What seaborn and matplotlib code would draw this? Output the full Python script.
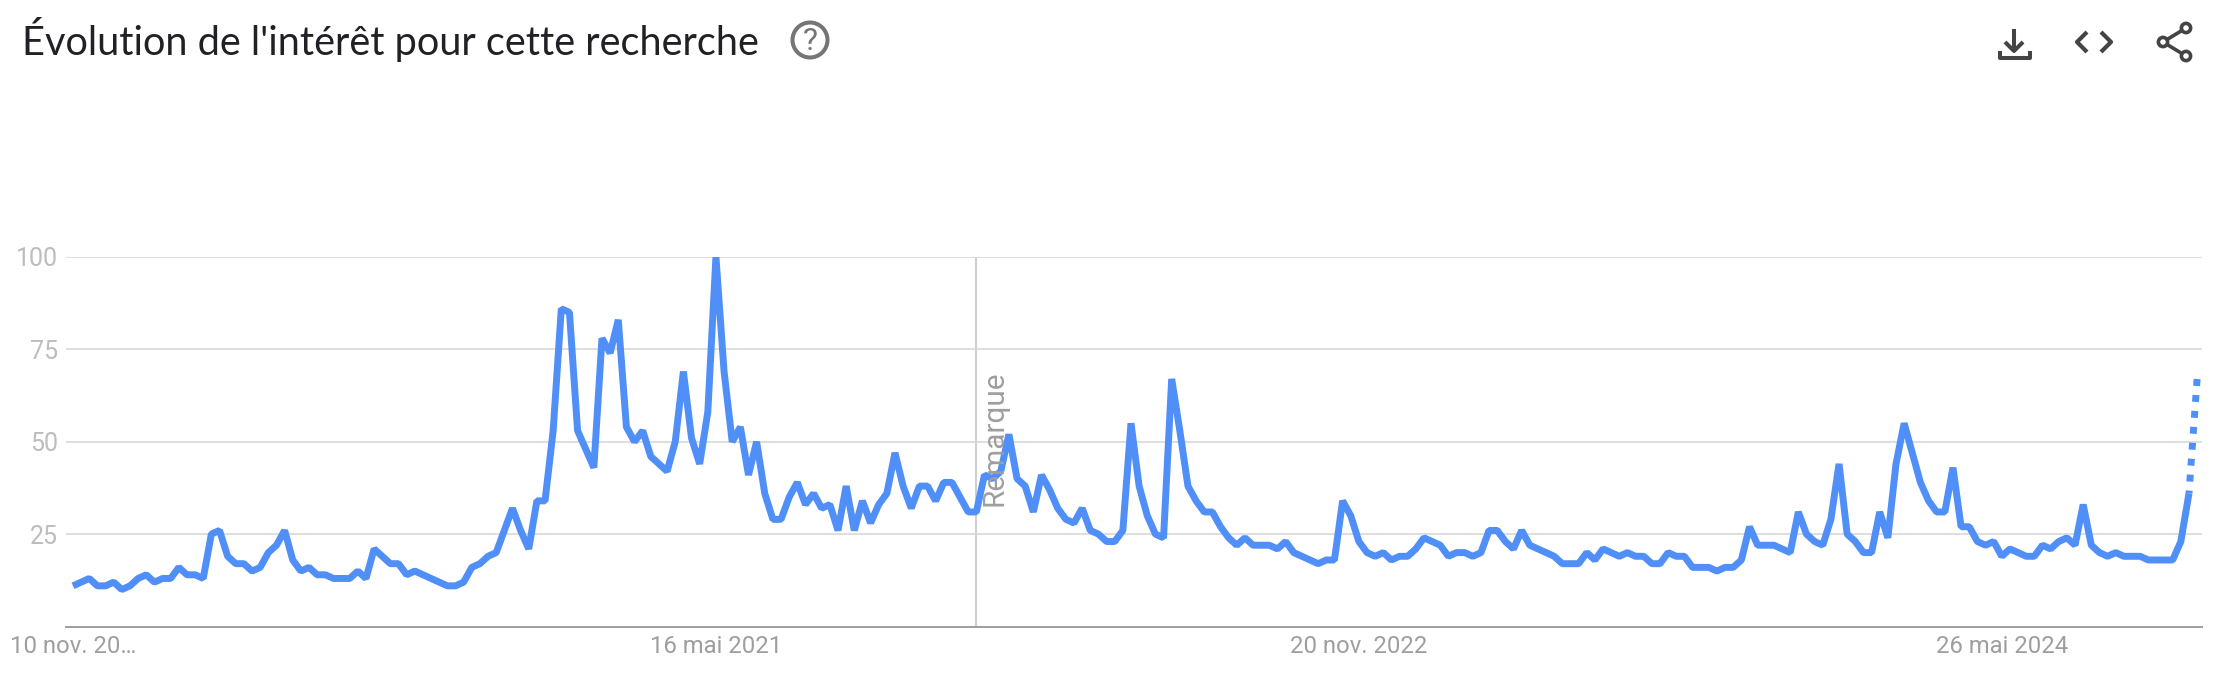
import matplotlib
matplotlib.use("Agg")
import matplotlib.pyplot as plt
import seaborn as sns
import numpy as np
from matplotlib.patches import Circle

# ================= DATA =================
interest = [
    11, 12, 13, 11, 11, 12, 10, 11, 13, 14, 12, 13, 13, 16, 14, 14, 13, 25, 26, 19,
    17, 17, 15, 16, 20, 22, 26, 18, 15, 16, 14, 14, 13, 13, 13, 15, 13, 21, 19, 17,
    17, 14, 15, 14, 13, 12, 11, 11, 12, 16, 17, 19, 20, 26, 32, 26, 21, 34, 34, 53,
    86, 85, 53, 48, 43, 78, 74, 83, 54, 50, 53, 46, 44, 42, 50, 69, 51, 44, 58, 100,
    69, 50, 54, 41, 50, 36, 29, 29, 35, 39, 33, 36, 32, 33, 26, 38, 26, 34, 28, 33,
    36, 47, 38, 32, 38, 38, 34, 39, 39, 35, 31, 31, 41, 40, 42, 52, 40, 38, 31, 41,
    37, 32, 29, 28, 32, 26, 25, 23, 23, 26, 55, 38, 30, 25, 24, 67, 53, 38, 34, 31,
    31, 27, 24, 22, 24, 22, 22, 22, 21, 23, 20, 19, 18, 17, 18, 18, 34, 30, 23, 20,
    19, 20, 18, 19, 19, 21, 24, 23, 22, 19, 20, 20, 19, 20, 26, 26, 23, 21, 26, 22,
    21, 20, 19, 17, 17, 17, 20, 18, 21, 20, 19, 20, 19, 19, 17, 17, 20, 19, 19, 16,
    16, 16, 15, 16, 16, 18, 27, 22, 22, 22, 21, 20, 31, 25, 23, 22, 29, 44, 25, 23,
    20, 20, 31, 24, 44, 55, 47, 39, 34, 31, 31, 43, 27, 27, 23, 22, 23, 19, 21, 20,
    19, 19, 22, 21, 23, 24, 22, 33, 22, 20, 19, 20, 19, 19, 19, 18, 18, 18, 18, 23,
    36, 67,
]
y_ticks = [25, 50, 75, 100]
date_ticks = [0, 79, 158, 237]
date_labels = ["10 nov. 20…", "16 mai 2021", "20 nov. 2022", "26 mai 2024"]
note_week = 111
title = "Évolution de l'intérêt pour cette recherche"

# ================= CONFIG =================
W, H = 2230, 680
BLUE = "#4f8ff7"
weeks = np.arange(len(interest))
values = np.array(interest)

sns.set_style("white")
plt.rcParams["font.family"] = ["Roboto", "DejaVu Sans"]

fig = plt.figure(figsize=(W / 100, H / 100), dpi=100)
ax = fig.add_axes([66 / W, 1 - 626.5 / H, (2202 - 66) / W, (626.5 - 257) / H])

# ================= LINE =================
sns.lineplot(x=weeks[:-1], y=values[:-1], ax=ax, color=BLUE, linewidth=5,
             errorbar=None, solid_joinstyle="bevel", solid_capstyle="butt", zorder=3)
sns.lineplot(x=weeks[-2:], y=values[-2:], ax=ax, color=BLUE, linewidth=5,
             errorbar=None, linestyle=(0.58, (1, 1.3)), dash_capstyle="butt", zorder=3)

ax.set_xlim(-0.86, 261.6)
ax.set_ylim(0, 100)
ax.set_xlabel("")
ax.set_ylabel("")

# ================= AXES =================
ax.set_yticks(y_ticks)
ax.set_xticks(date_ticks)
ax.set_xticklabels(date_labels)
ax.grid(axis="y", color="#dedede", linewidth=1.4)
ax.grid(axis="x", visible=False)
ax.tick_params(axis="y", length=0, pad=6, labelsize=18, labelcolor="#bdbdbd")
ax.tick_params(axis="x", length=0, pad=6, labelsize=17.2, labelcolor="#9e9e9e")
sns.despine(ax=ax, left=True, top=True, right=True)
ax.spines["bottom"].set_color("#9e9e9e")
ax.spines["bottom"].set_linewidth(1.4)

ax.axvline(note_week, color="#d0d0d0", linewidth=1.5, zorder=2)
ax.annotate("Remarque", xy=(note_week, 51), xytext=(13, 0), textcoords="offset points",
            rotation=90, ha="center", va="center", fontsize=21.4, color="#9e9e9e", zorder=4)

# ================= HEADER =================
over = fig.add_axes([0, 0, 1, 1], facecolor="none")
over.set_xlim(0, W)
over.set_ylim(H, 0)
over.axis("off")

over.text(22, 55, title, fontsize=28.6, family=["Lato", "DejaVu Sans"],
          color="#202124", va="baseline", ha="left")

over.add_patch(Circle((810, 40), 17.5, fill=False, edgecolor="#757575", linewidth=2.9))
over.text(810, 41, "?", fontsize=23, color="#757575", ha="center", va="center")

ICON = "#444444"
# download
over.plot([2014, 2014], [29, 50], color=ICON, lw=2.9, solid_capstyle="butt")
over.plot([2005, 2014, 2023], [42, 51, 42], color=ICON, lw=2.9, solid_capstyle="butt")
over.plot([2000, 2000, 2030, 2030], [51, 58, 58, 51], color=ICON, lw=2.9,
          solid_capstyle="butt", solid_joinstyle="round")
# embed
over.plot([2087, 2077, 2087], [32, 42, 52], color=ICON, lw=3, solid_capstyle="butt")
over.plot([2101, 2111, 2101], [32, 42, 52], color=ICON, lw=3, solid_capstyle="butt")
# share
over.plot([2186, 2163, 2186], [28, 42, 56], color=ICON, lw=2.6)
for cx, cy in [(2186, 28), (2163, 42), (2186, 56)]:
    over.add_patch(Circle((cx, cy), 4.6, facecolor="white", edgecolor=ICON, linewidth=2.6, zorder=3))

fig.savefig("out.png", dpi=100, facecolor="white")
